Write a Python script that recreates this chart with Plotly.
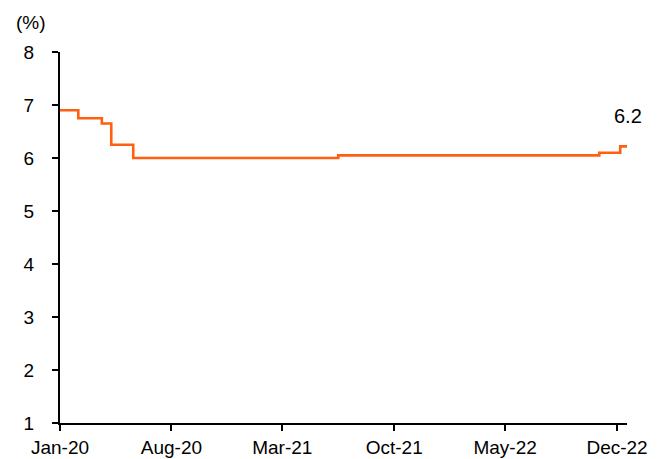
import plotly.graph_objects as go

# Step changes (date of change, rate %)
dates = ["2020-01-01", "2020-02-05", "2020-03-21", "2020-04-08", "2020-05-20",
         "2021-06-16", "2022-10-28", "2022-12-07", "2022-12-20"]
values = [6.9, 6.75, 6.65, 6.25, 6.0, 6.05, 6.1, 6.22, 6.22]
last_label = "6.2"

FONT = "Liberation Sans, Arial"

fig = go.Figure()
fig.add_trace(go.Scatter(
    x=dates, y=values, mode="lines",
    line=dict(color="#FF5F0F", width=2.6, shape="hv"),
    showlegend=False, hoverinfo="skip"))

fig.add_annotation(x=dates[-1], y=values[-1], text=last_label, showarrow=False,
                   yshift=30, xshift=1,
                   font=dict(family=FONT, size=20, color="black"))
fig.add_annotation(xref="paper", yref="paper", x=-0.051, y=1.0, xanchor="center",
                   yanchor="bottom", yshift=17, text="(%)", showarrow=False,
                   font=dict(family=FONT, size=19, color="black"))

# page body has an 8px default margin, so the figure is 8px smaller
fig.update_layout(
    width=656, height=451,
    margin=dict(l=52, r=37, t=44, b=36),
    paper_bgcolor="white", plot_bgcolor="white",
    font=dict(family=FONT, size=19, color="black"),
    xaxis=dict(range=["2020-01-01", "2022-12-20"], tick0="2020-01-01", dtick="M7",
               tickformat="%b-%y", showgrid=False, zeroline=False,
               showline=True, linecolor="black", linewidth=2,
               ticks="outside", ticklen=6, tickwidth=2, tickcolor="black",
               automargin=False, ticklabelstandoff=0),
    yaxis=dict(range=[1, 8], dtick=1, showgrid=False, zeroline=False,
               showline=True, linecolor="black", linewidth=2,
               ticks="outside", ticklen=6, tickwidth=2, tickcolor="black",
               automargin=False, ticklabelstandoff=14),
)
fig.write_html("out.html")
